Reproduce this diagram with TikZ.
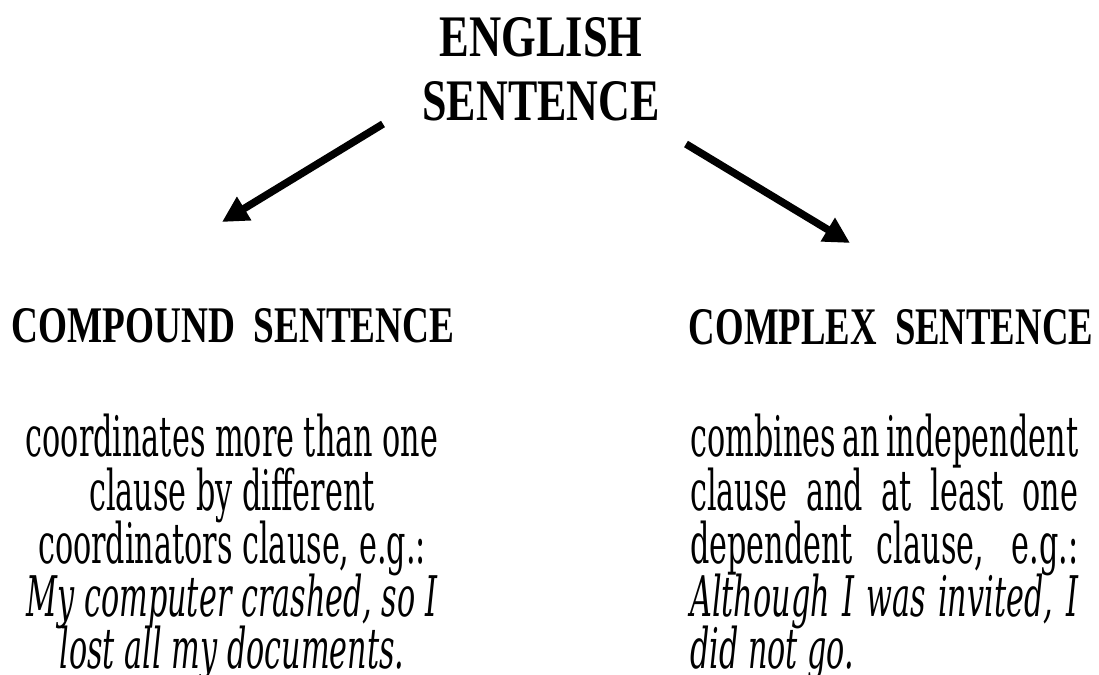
\documentclass[tikz,border=0pt]{standalone}
\usepackage{fontspec}
\usepackage{graphicx}
\usetikzlibrary{arrows.meta}
\setmainfont{Liberation Serif}
\newfontfamily\bodyfont[FakeStretch=0.54]{DejaVu Serif}
\newfontfamily\headfont{Liberation Serif}
\begin{document}
\begin{tikzpicture}[x=1pt,y=-1pt,
  head/.style={inner sep=0pt,anchor=base,font=\headfont\bfseries},
  bodyl/.style={inner sep=0pt,anchor=base,font=\bodyfont\fontsize{56}{54}\selectfont},
  bodyr/.style={inner sep=0pt,anchor=base west,font=\bodyfont\fontsize{56}{54}\selectfont},
  bigarrow/.style={line width=7.5pt,-{Triangle[length=26pt,width=26pt]}}]
\useasboundingbox (0,0) rectangle (1099,674);
% headings
\node[head] (eng) at (541,57) {\resizebox{203pt}{39pt}{ENGLISH}};
\node[head] (sen) at (541,120) {\resizebox{237pt}{39pt}{SENTENCE}};
\node[head] (cpd) at (233,342) {\resizebox{443pt}{34pt}{COMPOUND\ \ SENTENCE}};
\node[head] (cpx) at (891,344) {\resizebox{404pt}{35pt}{COMPLEX\ \ SENTENCE}};
% arrows
\coordinate (a1s) at (383,124);
\coordinate (a1e) at (222,222);
\coordinate (a2s) at (686,144);
\coordinate (a2e) at (850,243);
\draw[bigarrow] (a1s) -- (a1e);
\draw[bigarrow] (a2s) -- (a2e);
% left body
\node[bodyl] (l1) at (232,456) {coordinates more than one};
\node[bodyl] (l2) at (232,510) {clause by different};
\node[bodyl] (l3) at (232,563) {coordinators clause, e.g.:};
\node[bodyl] (l4) at (232,616) {\itshape My computer crashed, so I};
\node[bodyl] (l5) at (232,668) {\itshape lost all my documents.};
% right body
\node[bodyr] (r1) at (690,456) {\makebox[388pt][s]{combines an independent}};
\node[bodyr] (r2) at (690,510) {\makebox[388pt][s]{clause and at least one}};
\node[bodyr] (r3) at (690,563) {\makebox[388pt][s]{dependent clause, e.g.:}};
\node[bodyr] (r4) at (690,616) {\makebox[388pt][s]{\itshape Although I was invited, I}};
\node[bodyr] (r5) at (690,668) {\itshape did not go.};
\end{tikzpicture}
\end{document}
